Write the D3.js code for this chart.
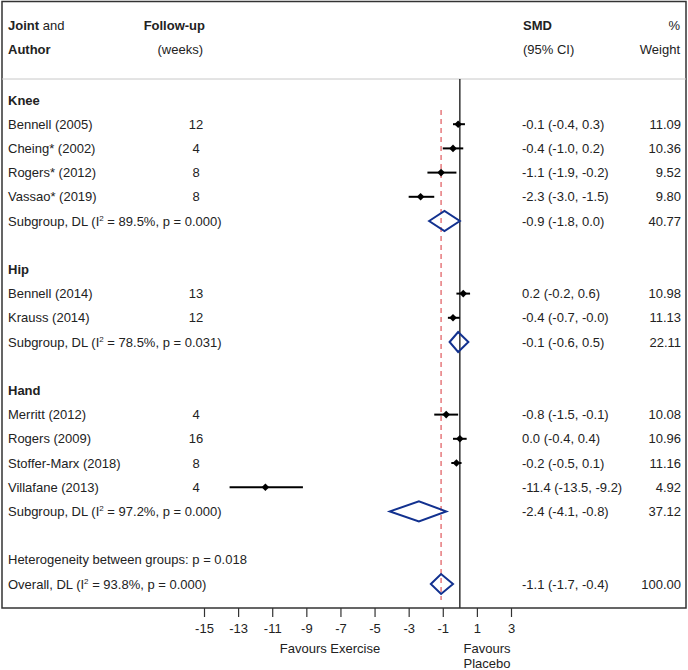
<!DOCTYPE html>
<html><head><meta charset="utf-8">
<script src="https://cdn.jsdelivr.net/npm/d3@7"></script>
<style>body{margin:0;background:#fff}svg text{font-family:"Liberation Sans",Arial,sans-serif;fill:#222}</style>
</head><body><svg id="c" width="688" height="670"></svg>
<script>
// Row structure: type, label, followup, est, lo, hi, ci text, weight
const rowTypes   = ["group","study","study","study","study","sub","blank","group","study","study","sub","blank","group","study","study","study","study","sub","blank","het","overall"];
const rowLabels  = ["Knee","Bennell (2005)","Cheing* (2002)","Rogers* (2012)","Vassao* (2019)","Subgroup, DL|89.5%|0.000","","Hip","Bennell (2014)","Krauss (2014)","Subgroup, DL|78.5%|0.031","","Hand","Merritt (2012)","Rogers (2009)","Stoffer-Marx (2018)","Villafane (2013)","Subgroup, DL|97.2%|0.000","","Heterogeneity between groups: p = 0.018","Overall, DL|93.8%|0.000"];
const followUp   = [null,12,4,8,8,null,null,null,13,12,null,null,null,4,16,8,4,null,null,null,null];
const smd        = [null,-0.1,-0.4,-1.1,-2.3,-0.9,null,null,0.2,-0.4,-0.1,null,null,-0.8,0.0,-0.2,-11.4,-2.4,null,null,-1.1];
const ciLow      = [null,-0.4,-1.0,-1.9,-3.0,-1.8,null,null,-0.2,-0.7,-0.6,null,null,-1.5,-0.4,-0.5,-13.5,-4.1,null,null,-1.7];
const ciHigh     = [null,0.3,0.2,-0.2,-1.5,0.0,null,null,0.6,-0.0,0.5,null,null,-0.1,0.4,0.1,-9.2,-0.8,null,null,-0.4];
const ciText     = ["","-0.1 (-0.4, 0.3)","-0.4 (-1.0, 0.2)","-1.1 (-1.9, -0.2)","-2.3 (-3.0, -1.5)","-0.9 (-1.8, 0.0)","","","0.2 (-0.2, 0.6)","-0.4 (-0.7, -0.0)","-0.1 (-0.6, 0.5)","","","-0.8 (-1.5, -0.1)","0.0 (-0.4, 0.4)","-0.2 (-0.5, 0.1)","-11.4 (-13.5, -9.2)","-2.4 (-4.1, -0.8)","","","-1.1 (-1.7, -0.4)"];
const weights    = ["","11.09","10.36","9.52","9.80","40.77","","","10.98","11.13","22.11","","","10.08","10.96","11.16","4.92","37.12","","","100.00"];
const xTicks     = [-15,-13,-11,-9,-7,-5,-3,-1,1,3];
const overallEst = -1.1;

const svg = d3.select("#c");
const fs = 13;
const x = d3.scaleLinear().domain([-15,3]).range([204,511]);
const y = d3.scaleLinear().domain([0,20]).range([100,584]);

// box
svg.append("rect").attr("x",2).attr("y",1.5).attr("width",684).attr("height",606.5)
  .attr("fill","none").attr("stroke","#333").attr("stroke-width",1.5);
svg.append("line").attr("x1",2).attr("x2",686).attr("y1",79).attr("y2",79).attr("stroke","#c8c8c8").attr("stroke-width",1);

// headers
function t(xp,yp,anchor){return svg.append("text").attr("x",xp).attr("y",yp).attr("text-anchor",anchor||"start").attr("font-size",fs);}
const h1=t(8,30); h1.append("tspan").attr("font-weight","bold").text("Joint"); h1.append("tspan").text(" and");
t(8,54).attr("font-weight","bold").text("Author");
t(205,30,"end").attr("font-weight","bold").text("Follow-up");
t(203,54,"end").text("(weeks)");
t(523,30).attr("font-weight","bold").text("SMD");
t(523,54).text("(95% CI)");
t(680,30,"end").text("%");
t(680,54,"end").text("Weight");

// zero line & overall dashed line
svg.append("line").attr("x1",x(0)).attr("x2",x(0)).attr("y1",79).attr("y2",608).attr("stroke","#333").attr("stroke-width",1.5);
svg.append("line").attr("x1",x(overallEst)).attr("x2",x(overallEst)).attr("y1",110).attr("y2",600)
  .attr("stroke","#e0585d").attr("stroke-width",1.2).attr("stroke-dasharray","5,4");

rowTypes.forEach((tp,i)=>{
  const yc = y(i), yb = yc+4.6;
  if(tp==="group"){ t(8,yb).attr("font-weight","bold").text(rowLabels[i]); }
  else if(tp==="study"){
    t(8,yb).text(rowLabels[i]);
    t(196,yb,"middle").text(followUp[i]);
    svg.append("line").attr("x1",x(ciLow[i])).attr("x2",x(ciHigh[i])).attr("y1",yc).attr("y2",yc).attr("stroke","#000").attr("stroke-width",2);
    const s=3.8, cx=x(smd[i]);
    svg.append("path").attr("d",`M${cx-s},${yc}L${cx},${yc-s}L${cx+s},${yc}L${cx},${yc+s}Z`).attr("fill","#000");
    t(522,yb).text(ciText[i]); t(681,yb,"end").text(weights[i]);
  } else if(tp==="sub"||tp==="overall"){
    const p=rowLabels[i].split("|");
    const tx=t(8,yb); tx.append("tspan").text(p[0]+" (I"); tx.append("tspan").attr("dy",-5).attr("font-size",8).text("2");
    tx.append("tspan").attr("dy",5).text(` = ${p[1]}, p = ${p[2]})`);
    const h=10;
    svg.append("path").attr("d",`M${x(ciLow[i])},${yc}L${x(smd[i])},${yc-h}L${x(ciHigh[i])},${yc}L${x(smd[i])},${yc+h}Z`)
      .attr("fill","none").attr("stroke","#12318f").attr("stroke-width",2);
    t(522,yb).text(ciText[i]); t(681,yb,"end").text(weights[i]);
  } else if(tp==="het"){ t(8,yb).text(rowLabels[i]); }
});

// axis
const ax = svg.append("g").attr("transform","translate(0,608)")
  .call(d3.axisBottom(x).tickValues(xTicks).tickSize(9).tickSizeOuter(0).tickFormat(d3.format("d")));
ax.select(".domain").remove();
ax.selectAll(".tick line").attr("stroke","#333").attr("stroke-width",1.2);
ax.selectAll(".tick text").attr("font-size",fs).attr("font-family","Liberation Sans, Arial, sans-serif").attr("fill","#222").attr("dy","1em").text(d=>d<0?"-"+Math.abs(d):d);
t(330,653,"middle").text("Favours Exercise");
t(487,653,"middle").text("Favours");
t(487,668,"middle").text("Placebo");
</script></body></html>
